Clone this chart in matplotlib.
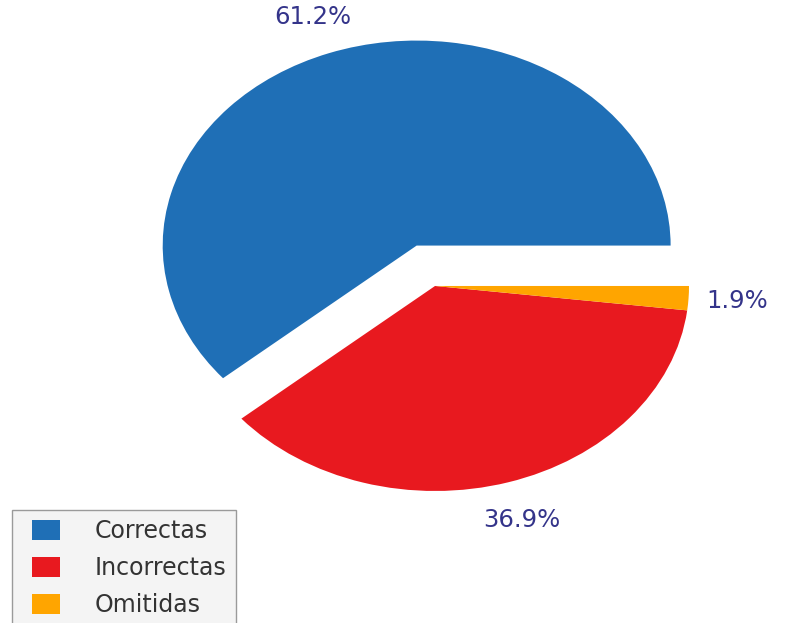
import numpy as np
import matplotlib
matplotlib.use("Agg")
import matplotlib.pyplot as plt
from matplotlib.patches import Rectangle
from matplotlib.legend_handler import HandlerPatch

# Resultados de la prueba
categorias = ["Correctas", "Incorrectas", "Omitidas"]
porcentajes = [61.2, 36.9, 1.9]
colores = ["#1f6fb6", "#e8191f", "#ffa500"]
separacion = [0.21, 0.0, 0.0]

fig = plt.figure(figsize=(7.85, 6.23), dpi=100)
ax = fig.add_axes([0, 0, 1, 1])

wedges, texts, autotexts = ax.pie(porcentajes, explode=separacion, colors=colores,
                                  autopct="%1.1f%%", pctdistance=1.19,
                                  startangle=0, counterclock=True,
                                  wedgeprops=dict(linewidth=0))
for t in autotexts:
    t.set_color("#34348a")
    t.set_fontsize(17.5)

# elipse: el eje no tiene aspecto igual
ax.set_aspect("auto")
ax.set_xlim(-1.713, 1.378)
ax.set_ylim(-1.644, 1.395)
ax.axis("off")


# cuadro de color desplazado hacia la derecha dentro del hueco del handle
def cuadro(legend, orig_handle, xdescent, ydescent, width, height, fontsize):
    w = width * 0.72
    return Rectangle((-xdescent + width - w, -ydescent), w, height)


leg = fig.legend(wedges, categorias, loc="upper left",
                 bbox_to_anchor=(12 / 785, 1 - 510 / 623), borderaxespad=0,
                 fontsize=17, fancybox=False, framealpha=1,
                 handlelength=1.64, handleheight=0.93, handletextpad=1.45,
                 labelspacing=0.55, borderpad=0.4,
                 handler_map={w: HandlerPatch(patch_func=cuadro) for w in wedges})
leg.get_frame().set_facecolor("#f4f4f4")
leg.get_frame().set_edgecolor("#9a9a9a")
for t in leg.get_texts():
    t.set_color("#333333")

fig.savefig("out.png", dpi=100)
